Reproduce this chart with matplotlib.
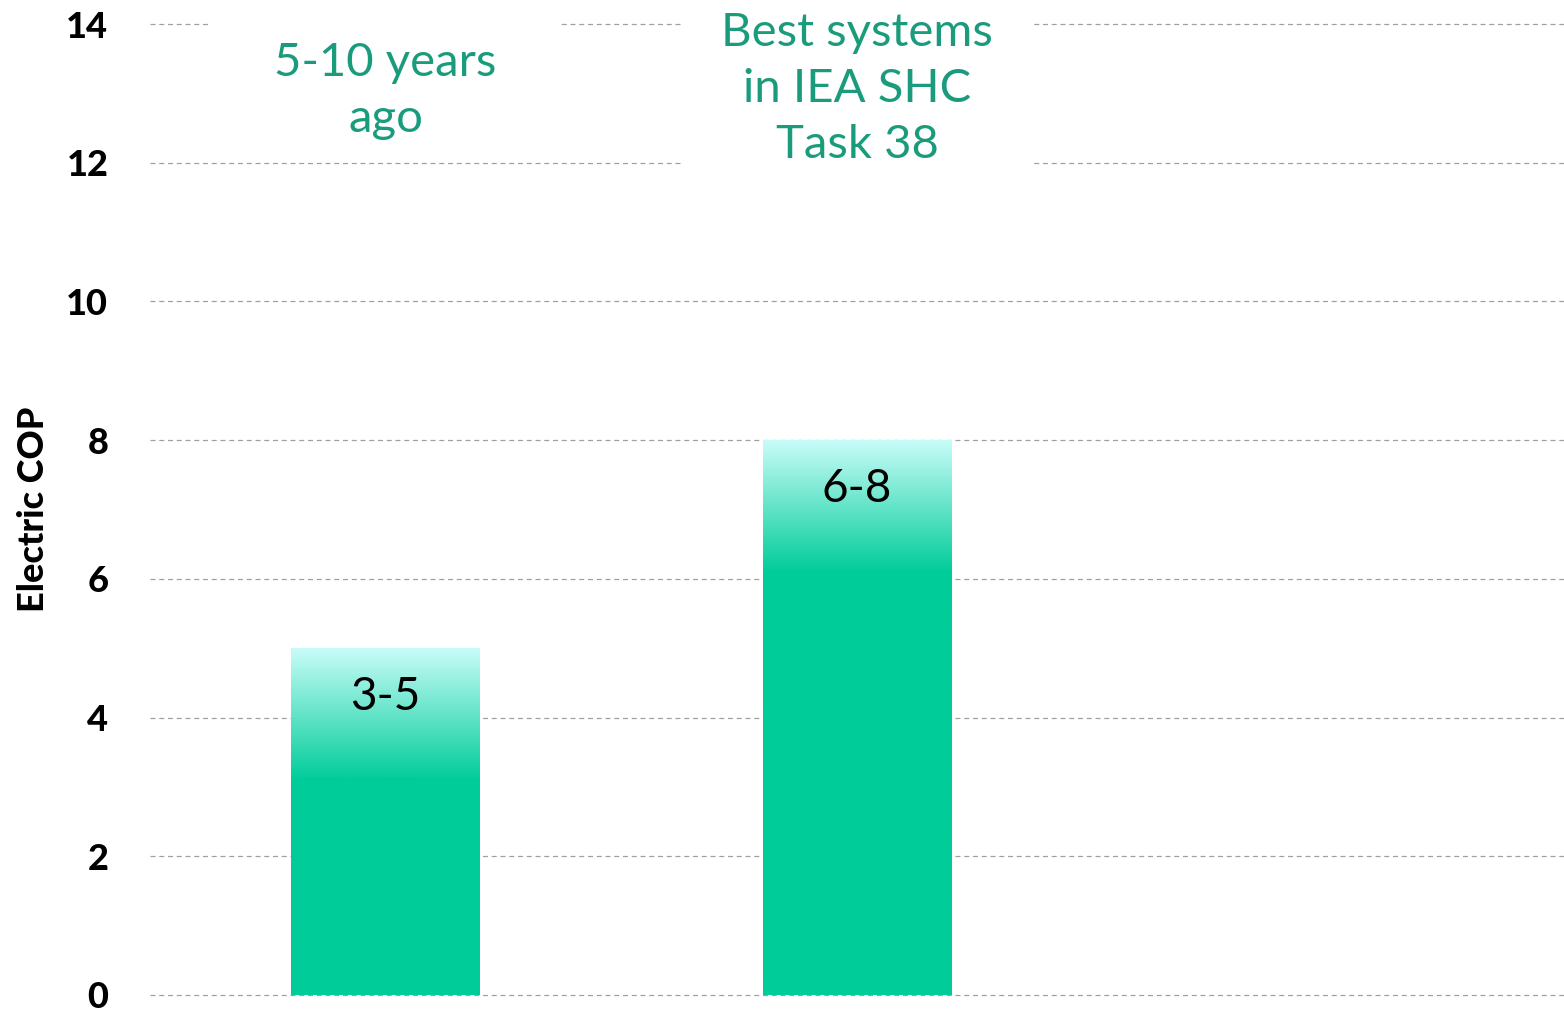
import numpy as np
import matplotlib
matplotlib.use("Agg")
import matplotlib.pyplot as plt
from matplotlib.colors import LinearSegmentedColormap
from matplotlib.patches import Rectangle

plt.rcParams['font.family'] = ['Lato', 'DejaVu Sans']

# Data
categories = ["5-10 years\nago", "Best systems\nin IEA SHC\nTask 38", ""]
cop_upper = [5, 8, 0]
range_labels = ["3-5", "6-8", ""]
y_ticks = [0, 2, 4, 6, 8, 10, 12, 14]

green = "#00cc99"
top_col = "#c8fcf8"
text_green = "#1a9c7c"

fig = plt.figure(figsize=(15.64, 10.11), dpi=100)
ax = fig.add_axes([150/1564, 16/1011, 1414/1564, 971/1011])
ax.set_xlim(-0.5, 2.5)
ax.set_ylim(0, 14)

for s in ax.spines.values():
    s.set_visible(False)
ax.set_xticks([])
ax.set_yticks(y_ticks)
ax.tick_params(axis='y', length=0, pad=30, labelsize=26)
for lbl in ax.get_yticklabels():
    lbl.set_fontweight('black')
ax.set_ylabel("Electric COP", fontsize=26, fontweight='black')
ax.yaxis.set_label_coords(-0.071, 0.5)

for t in y_ticks:
    ax.axhline(t, color="#a0a0a0", lw=0.9, ls=(0, (4, 3)), zorder=0,
               clip_on=False)

cmap = LinearSegmentedColormap.from_list("fade", [top_col, green])
bar_w = 0.4
fade_len = 1.9  # data units over which the top of each bar fades
for i, h in enumerate(cop_upper):
    if h <= 0:
        continue
    ax.bar(i, h, width=bar_w, color=green, zorder=2)
    n = 400
    ys = np.linspace(h, 0, n)
    vals = np.clip((h - ys) / fade_len, 0, 1)[:, None]
    ax.imshow(vals, cmap=cmap, vmin=0, vmax=1, aspect='auto',
              extent=[i - bar_w/2, i + bar_w/2, 0, h], zorder=3,
              interpolation='bilinear')
    ax.text(i, h - 0.7, range_labels[i], ha='center', va='center',
            fontsize=33, color='black', zorder=4)

ax.set_xlim(-0.5, 2.5)
ax.set_ylim(0, 14)

# Caption boxes over the gridlines
box_w = 0.742
box_specs = [(12.35, 14.6), (11.9, 14.6)]
text_y = [13.03, 13.06]
for i, (y0, y1) in enumerate(box_specs):
    ax.add_patch(Rectangle((i - box_w/2, y0), box_w, y1 - y0,
                           facecolor='white', edgecolor='none',
                           zorder=5, clip_on=False))
    ax.text(i, text_y[i], categories[i], ha='center', va='center',
            fontsize=34, color=text_green, zorder=6, linespacing=1.42)

fig.savefig("out.png", dpi=100)
